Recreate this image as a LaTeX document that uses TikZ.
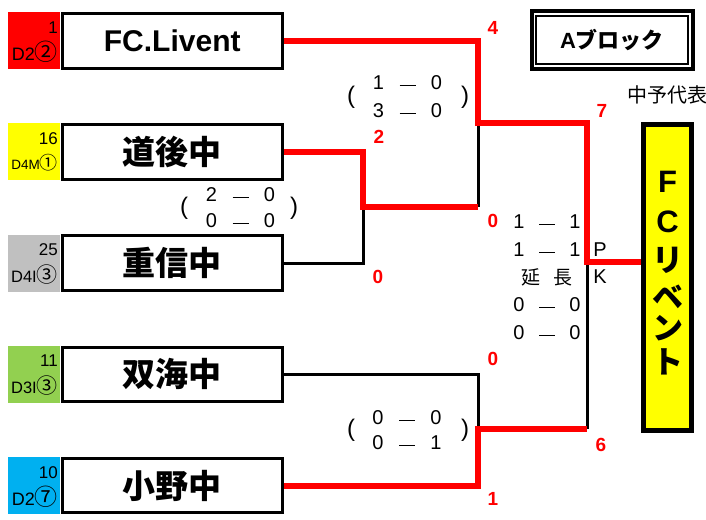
\documentclass[tikz,border=0pt]{standalone}
\usepackage{fontspec}
\setmainfont{Liberation Sans}
\newfontfamily\jp{Noto Sans CJK JP}
\definecolor{sred}{HTML}{FF0000}
\definecolor{syellow}{HTML}{FFFF00}
\definecolor{sgray}{HTML}{C0C0C0}
\definecolor{sgreen}{HTML}{92D050}
\definecolor{sblue}{HTML}{00B0F0}
\newcommand{\scline}[3][29pt]{\makebox[#1]{#2}\makebox[#1]{\rule[3.5pt]{16pt}{1.5pt}}\makebox[#1]{#3}}
\newcommand{\circd}[2][21]{{\fontsize{#1}{#1}\selectfont\jp #2}}
\tikzset{
  seedbox/.style={fill=#1, draw=none, minimum width=52pt, minimum height=57pt, inner sep=0pt},
  team/.style={draw, line width=3pt, minimum width=219.5pt, minimum height=54.5pt, inner sep=0pt},
  seednum/.style={anchor=east, inner sep=0pt, font=\fontsize{17}{17}\selectfont},
  seedlab/.style={anchor=east, inner sep=0pt, font=\fontsize{16.5}{17}\selectfont},
  latinname/.style={font=\fontsize{30}{30}\selectfont\bfseries},
  jpname/.style={font=\fontsize{33}{33}\selectfont\jp\bfseries},
  redl/.style={draw=sred, line width=6pt},
  blkl/.style={draw=black, line width=3pt},
  rsc/.style={text=sred, inner sep=0pt, font=\fontsize{19}{19}\selectfont\bfseries},
  sc/.style={inner sep=0pt, font=\fontsize{20}{20}\selectfont},
  par/.style={inner sep=0pt, font=\fontsize{24}{24}\selectfont},
  vch/.style={inner sep=0pt, font=\fontsize{31}{31}\selectfont\jp\bfseries},
}
\begin{document}
\begin{tikzpicture}[x=1pt,y=-1pt]
\useasboundingbox (0,0) rectangle (706,519);
% seeds
\node[seedbox=sred]    (s1) at (34,40.5)   {};
\node[seedbox=syellow] (s2) at (34,151.75) {};
\node[seedbox=sgray]   (s3) at (34,263)    {};
\node[seedbox=sgreen]  (s4) at (34,374.25) {};
\node[seedbox=sblue]   (s5) at (34,485.5)  {};
\node[seednum] (n1) at (58,27.5)   {1};
\node[seedlab,font=\fontsize{18}{18}\selectfont] (l1) at (58,52) {D2\circd[23]{②}};
\node[seednum] (n2) at (58,138.5)  {16};
\node[seedlab,font=\fontsize{13.5}{14}\selectfont] (l2) at (58,163) {D4M\circd[18]{①}};
\node[seednum] (n3) at (58,249.5)  {25};
\node[seedlab] (l3) at (58,274.5)  {D4I\circd{③}};
\node[seednum] (n4) at (58,360.75) {11};
\node[seedlab] (l4) at (58,385.5)  {D3I\circd{③}};
\node[seednum] (n5) at (58,473)    {10};
\node[seedlab,font=\fontsize{18}{18}\selectfont] (l5) at (58,496.5) {D2\circd[23]{⑦}};
% teams
\node[team,latinname] (t1) at (172.25,40.75)  {FC.Livent};
\node[team,jpname]    (t2) at (172.25,151.75) {道後中};
\node[team,jpname]    (t3) at (172.25,263)    {重信中};
\node[team,jpname]    (t4) at (172.25,374.25) {双海中};
\node[team,jpname]    (t5) at (172.25,485.5)  {小野中};
% winner box
\node[draw, line width=5pt, fill=syellow, minimum width=48pt, minimum height=306pt, inner sep=0pt] (fc) at (667.5,277.5) {};
\node[vch] (v1) at (667.5,182) {\fontspec{Liberation Sans}\bfseries F};
\node[vch] (v2) at (667.5,222) {\fontspec{Liberation Sans}\bfseries C};
\node[vch] (v3) at (667.5,260) {リ};
\node[vch] (v4) at (667.5,297) {ベ};
\node[vch] (v5) at (667.5,328) {ン};
\node[vch] (v6) at (667.5,362) {ト};
% junctions
\coordinate (j1) at (363,207);
\coordinate (k1) at (478,207);
\coordinate (j2) at (478,123);
\coordinate (j3) at (478,429);
\coordinate (k3) at (587,429);
\coordinate (j4) at (587,262);
% black lines
\draw[blkl] (t3.east) -| (j1);
\draw[blkl] (j2) -- (k1);
\draw[blkl] (t4.east) -| (j3);
\draw[blkl] (k3) -- (j4);
% red lines
\draw[redl] (t2.east) -| (j1) -- (k1);
\draw[redl] (t5.east) -| (j3) -- (k3);
\draw[redl] (t1.east) -| (j2) -| (j4) -- (j4 -| fc.west);
% red scores
\node[rsc] (r1) at (493,28)  {4};
\node[rsc] (r2) at (379,137) {2};
\node[rsc] (r3) at (378,277) {0};
\node[rsc] (r4) at (493,221) {0};
\node[rsc] (r5) at (602,111) {7};
\node[rsc] (r6) at (493,359) {0};
\node[rsc] (r7) at (601,445) {6};
\node[rsc] (r8) at (493,499) {1};
% game scores: top
\node[sc] (a1) at (407.5,83)  {\scline{1}{0}};
\node[sc] (a2) at (407.5,111) {\scline{3}{0}};
\node[par] (a3) at (351,97) {(};
\node[par] (a4) at (465,97) {)};
% game scores: second
\node[sc] (b1) at (240.5,195) {\scline{2}{0}};
\node[sc] (b2) at (240.5,221) {\scline{0}{0}};
\node[par] (b3) at (184,208) {(};
\node[par] (b4) at (294,208) {)};
% game scores: bottom
\node[sc] (c1) at (407,418) {\scline{0}{0}};
\node[sc] (c2) at (407,443) {\scline{0}{1}};
\node[par] (c3) at (351,430) {(};
\node[par] (c4) at (465,430) {)};
% final
\node[sc] (f1) at (547,222) {\scline[28pt]{1}{1}};
\node[sc] (f2) at (547,250) {\scline[28pt]{1}{1}};
\node[sc,font=\fontsize{19}{19}\selectfont\jp] (f3) at (547,277) {\makebox[33pt][l]{延}長};
\node[sc] (f4) at (547,305) {\scline[28pt]{0}{0}};
\node[sc] (f5) at (547,333) {\scline[28pt]{0}{0}};
\node[sc] (p1) at (600,250) {P};
\node[sc] (p2) at (600,277) {K};
% block title
\draw[line width=4pt] (532,11.3) rectangle (693,69);
\draw[line width=2pt] (536,15.7) rectangle (687.7,63.7);
\node[inner sep=0pt, font=\fontsize{22}{22}\selectfont\bfseries] (blk) at (612,40) {A{\jp\bfseries ブロック}};
\node[anchor=west, inner sep=0pt, font=\fontsize{20}{20}\selectfont\jp] (rep) at (627,95) {中予代表};
\end{tikzpicture}
\end{document}
